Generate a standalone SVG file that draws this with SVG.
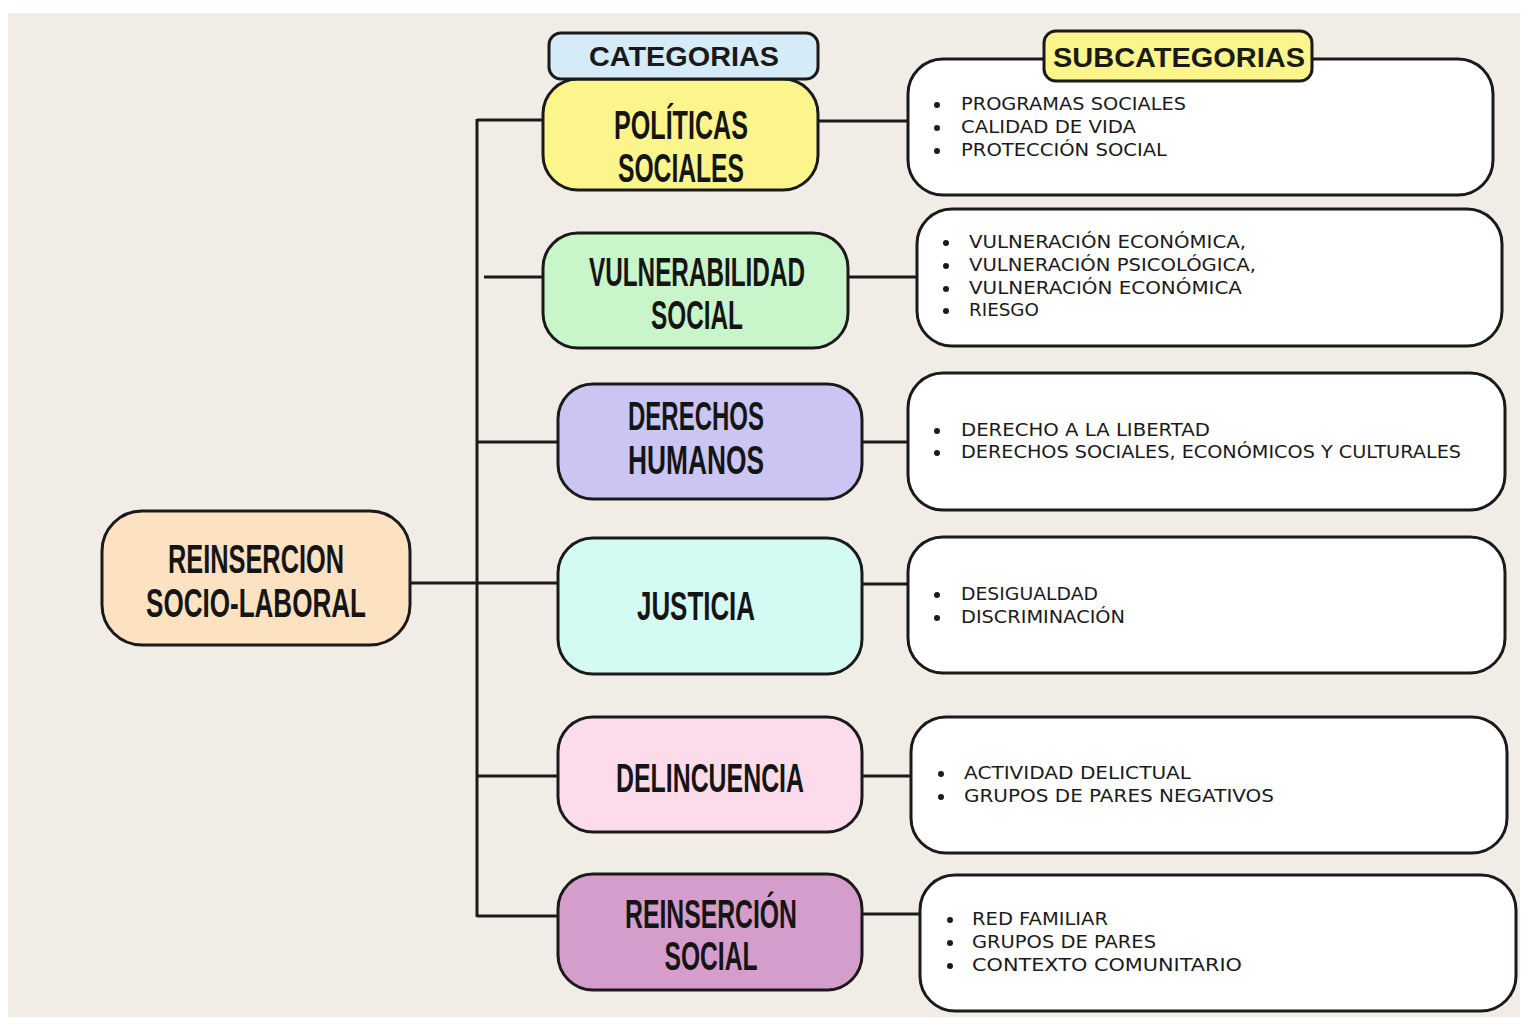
<svg xmlns="http://www.w3.org/2000/svg" width="1522" height="1019" viewBox="0 0 1522 1019">
<style>
.box{stroke:#1a1a1a;stroke-width:3}
.sub{fill:#ffffff;stroke:#1a1a1a;stroke-width:3}
.conn{stroke:#1a1a1a;stroke-width:3;fill:none}
.cat{font-family:"Liberation Sans",Arial,sans-serif;font-weight:bold;font-size:41px;fill:#151515}
.hdr{font-family:"Liberation Sans",Arial,sans-serif;font-weight:bold;font-size:27px;fill:#1a1a1a}
.item{font-family:"DejaVu Sans","Liberation Sans",sans-serif;font-size:17px;fill:#1a1a1a}
.dot{fill:#1a1a1a}
</style>
<rect width="1522" height="1019" fill="#ffffff"/>
<rect x="8" y="13" width="1512" height="1004" fill="#f1ece6"/>

<g id="connectors">
<line class="conn" x1="477" y1="119" x2="477" y2="917"/>
<line class="conn" x1="477" y1="120" x2="543" y2="120"/>
<line class="conn" x1="484" y1="277" x2="543" y2="277"/>
<line class="conn" x1="477" y1="442" x2="558" y2="442"/>
<line class="conn" x1="410" y1="583" x2="558" y2="583"/>
<line class="conn" x1="477" y1="776" x2="558" y2="776"/>
<line class="conn" x1="477" y1="916" x2="558" y2="916"/>
<line class="conn" x1="818" y1="121" x2="908" y2="121"/>
<line class="conn" x1="848" y1="277" x2="917" y2="277"/>
<line class="conn" x1="862" y1="442" x2="908" y2="442"/>
<line class="conn" x1="862" y1="584" x2="908" y2="584"/>
<line class="conn" x1="862" y1="776" x2="911" y2="776"/>
<line class="conn" x1="862" y1="914" x2="920" y2="914"/>
</g>

<g id="root">
<rect class="box" x="102" y="511" width="308" height="134" rx="40" fill="#fde2c1"/>
<text class="cat" x="256" y="573" text-anchor="middle" textLength="176" lengthAdjust="spacingAndGlyphs">REINSERCION</text>
<text class="cat" x="256" y="617" text-anchor="middle" textLength="220" lengthAdjust="spacingAndGlyphs">SOCIO-LABORAL</text>
</g>

<g id="cat-politicas">
<rect class="box" x="543" y="79" width="275" height="111" rx="35" fill="#fbf58b"/>
<text class="cat" x="681" y="139" text-anchor="middle" textLength="134" lengthAdjust="spacingAndGlyphs">POLÍTICAS</text>
<text class="cat" x="681" y="182" text-anchor="middle" textLength="126" lengthAdjust="spacingAndGlyphs">SOCIALES</text>
</g>

<g id="header-categorias">
<rect class="box" x="549" y="33" width="269" height="46" rx="12" fill="#d5ebf8"/>
<text class="hdr" x="684" y="66" text-anchor="middle" textLength="190" lengthAdjust="spacingAndGlyphs">CATEGORIAS</text>
</g>

<g id="cat-vulnerabilidad">
<rect class="box" x="543" y="233" width="305" height="115" rx="35" fill="#c8f5c9"/>
<text class="cat" x="697" y="286" text-anchor="middle" textLength="216" lengthAdjust="spacingAndGlyphs">VULNERABILIDAD</text>
<text class="cat" x="697" y="329" text-anchor="middle" textLength="92" lengthAdjust="spacingAndGlyphs">SOCIAL</text>
</g>

<g id="cat-derechos">
<rect class="box" x="558" y="384" width="304" height="115" rx="35" fill="#cac5f3"/>
<text class="cat" x="696" y="430" text-anchor="middle" textLength="136" lengthAdjust="spacingAndGlyphs">DERECHOS</text>
<text class="cat" x="696" y="474" text-anchor="middle" textLength="136" lengthAdjust="spacingAndGlyphs">HUMANOS</text>
</g>

<g id="cat-justicia">
<rect class="box" x="558" y="538" width="304" height="136" rx="35" fill="#d4faf4"/>
<text class="cat" x="696" y="620" text-anchor="middle" textLength="118" lengthAdjust="spacingAndGlyphs">JUSTICIA</text>
</g>

<g id="cat-delincuencia">
<rect class="box" x="558" y="717" width="304" height="115" rx="35" fill="#fcdcea"/>
<text class="cat" x="710" y="792" text-anchor="middle" textLength="188" lengthAdjust="spacingAndGlyphs">DELINCUENCIA</text>
</g>

<g id="cat-reinsercion">
<rect class="box" x="558" y="874" width="304" height="116" rx="35" fill="#d59dcb"/>
<text class="cat" x="711" y="928" text-anchor="middle" textLength="172" lengthAdjust="spacingAndGlyphs">REINSERCIÓN</text>
<text class="cat" x="711" y="970" text-anchor="middle" textLength="93" lengthAdjust="spacingAndGlyphs">SOCIAL</text>
</g>

<g id="sub-politicas">
<rect class="sub" x="908" y="59" width="585" height="136" rx="35"/>
<circle class="dot" cx="937" cy="105" r="3"/>
<circle class="dot" cx="937" cy="128" r="3"/>
<circle class="dot" cx="937" cy="151" r="3"/>
<text class="item" x="961" y="110" textLength="225" lengthAdjust="spacingAndGlyphs">PROGRAMAS SOCIALES</text>
<text class="item" x="961" y="133" textLength="175" lengthAdjust="spacingAndGlyphs">CALIDAD DE VIDA</text>
<text class="item" x="961" y="156" textLength="206" lengthAdjust="spacingAndGlyphs">PROTECCIÓN SOCIAL</text>
</g>

<g id="header-subcategorias">
<rect class="box" x="1044" y="31" width="268" height="50" rx="12" fill="#fbf58b"/>
<text class="hdr" x="1179" y="67" text-anchor="middle" textLength="252" lengthAdjust="spacingAndGlyphs">SUBCATEGORIAS</text>
</g>

<g id="sub-vulnerabilidad">
<rect class="sub" x="917" y="209" width="585" height="137" rx="35"/>
<circle class="dot" cx="946" cy="243" r="3"/>
<circle class="dot" cx="946" cy="266" r="3"/>
<circle class="dot" cx="946" cy="289" r="3"/>
<circle class="dot" cx="946" cy="311" r="3"/>
<text class="item" x="969" y="248" textLength="277" lengthAdjust="spacingAndGlyphs">VULNERACIÓN ECONÓMICA,</text>
<text class="item" x="969" y="271" textLength="287" lengthAdjust="spacingAndGlyphs">VULNERACIÓN PSICOLÓGICA,</text>
<text class="item" x="969" y="294" textLength="273" lengthAdjust="spacingAndGlyphs">VULNERACIÓN ECONÓMICA</text>
<text class="item" x="969" y="316" textLength="70" lengthAdjust="spacingAndGlyphs">RIESGO</text>
</g>

<g id="sub-derechos">
<rect class="sub" x="908" y="373" width="597" height="137" rx="35"/>
<circle class="dot" cx="937" cy="431" r="3"/>
<circle class="dot" cx="937" cy="453" r="3"/>
<text class="item" x="961" y="436" textLength="249" lengthAdjust="spacingAndGlyphs">DERECHO A LA LIBERTAD</text>
<text class="item" x="961" y="458" textLength="500" lengthAdjust="spacingAndGlyphs">DERECHOS SOCIALES, ECONÓMICOS Y CULTURALES</text>
</g>

<g id="sub-justicia">
<rect class="sub" x="908" y="537" width="597" height="136" rx="35"/>
<circle class="dot" cx="937" cy="595" r="3"/>
<circle class="dot" cx="937" cy="618" r="3"/>
<text class="item" x="961" y="600" textLength="137" lengthAdjust="spacingAndGlyphs">DESIGUALDAD</text>
<text class="item" x="961" y="623" textLength="164" lengthAdjust="spacingAndGlyphs">DISCRIMINACIÓN</text>
</g>

<g id="sub-delincuencia">
<rect class="sub" x="911" y="717" width="596" height="136" rx="35"/>
<circle class="dot" cx="941" cy="774" r="3"/>
<circle class="dot" cx="941" cy="797" r="3"/>
<text class="item" x="964" y="779" textLength="227" lengthAdjust="spacingAndGlyphs">ACTIVIDAD DELICTUAL</text>
<text class="item" x="964" y="802" textLength="310" lengthAdjust="spacingAndGlyphs">GRUPOS DE PARES NEGATIVOS</text>
</g>

<g id="sub-reinsercion">
<rect class="sub" x="920" y="875" width="596" height="136" rx="35"/>
<circle class="dot" cx="950" cy="920" r="3"/>
<circle class="dot" cx="950" cy="943" r="3"/>
<circle class="dot" cx="950" cy="966" r="3"/>
<text class="item" x="972" y="925" textLength="136" lengthAdjust="spacingAndGlyphs">RED FAMILIAR</text>
<text class="item" x="972" y="948" textLength="184" lengthAdjust="spacingAndGlyphs">GRUPOS DE PARES</text>
<text class="item" x="972" y="971" textLength="270" lengthAdjust="spacingAndGlyphs">CONTEXTO COMUNITARIO</text>
</g>
</svg>
